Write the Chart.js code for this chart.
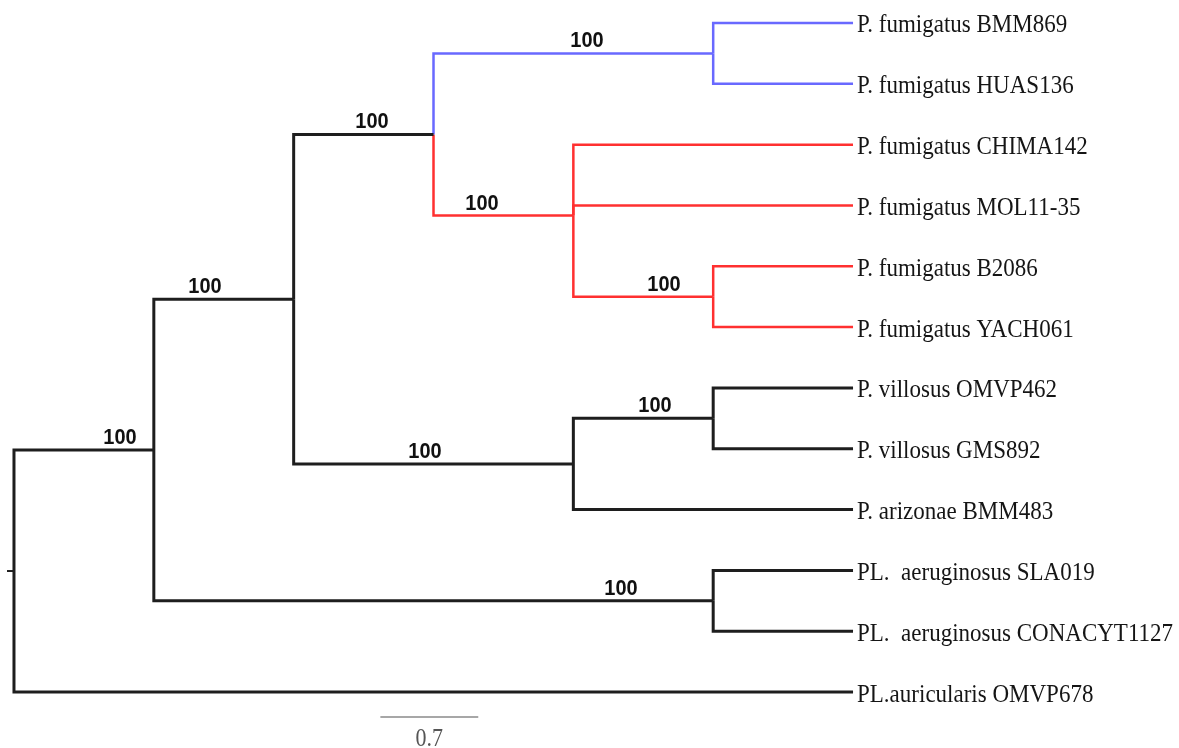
<!DOCTYPE html>
<html>
<head>
<meta charset="utf-8">
<script src="https://cdn.jsdelivr.net/npm/chart.js@4.4.0/dist/chart.umd.min.js"></script>
<style>
  html, body { margin: 0; padding: 0; background: #ffffff; }
  #wrap { width: 1179px; height: 748px; }
</style>
</head>
<body>
<div id="wrap"><canvas id="arvore" width="1179" height="748"></canvas></div>
<script>
// Dados da árvore (folhas em ordem de cima para baixo)
const leafNames = [
    'P. fumigatus BMM869',
    'P. fumigatus HUAS136',
    'P. fumigatus CHIMA142',
    'P. fumigatus MOL11-35',
    'P. fumigatus B2086',
    'P. fumigatus YACH061',
    'P. villosus OMVP462',
    'P. villosus GMS892',
    'P. arizonae BMM483',
    'PL.  aeruginosus SLA019',
    'PL.  aeruginosus CONACYT1127',
    'PL.auricularis OMVP678'
];
// grupo de cor de cada folha
const leafGroup = ['blue', 'blue', 'red', 'red', 'red', 'red',
                   'black', 'black', 'black', 'black', 'black', 'black'];
// topologia (índices das folhas)
const topology = [[[[[0, 1], [2, 3, [4, 5]]], [[6, 7], 8]], [9, 10]], 11];
// valores de bootstrap dos nós internos (pré-ordem, sem a raiz)
const supportValues = [100, 100, 100, 100, 100, 100, 100, 100, 100];
// barra de escala
const scaleBarLength = 0.7;
const scaleBarLabel = '0.7';

// posição horizontal dos rótulos de suporte (unidades do eixo x)
const supportLabelX = [0.758, 1.366, 2.56, 4.098, 3.347, 4.648, 2.939, 4.584, 4.341];

const cores = { blue: 'rgb(105, 105, 255)', red: 'rgb(255, 48, 48)', black: '#1e1e1e' };

// Monta os nós a partir da topologia
function buildNode(item) {
    if (typeof item === 'number') {
        return { leaf: item, children: [], height: 0, y: item, group: leafGroup[item] };
    }
    const children = item.map(buildNode);
    const height = 1 + Math.max(...children.map(c => c.height));
    const y = children.reduce((s, c) => s + c.y, 0) / children.length;
    const grupos = new Set(children.map(c => c.group));
    const group = grupos.size === 1 ? children[0].group : 'black';
    return { children, height, y, group };
}

const root = buildNode(topology);
const maxHeight = root.height;

const internos = [];
const datasets = [];
function walk(node, parent) {
    node.x = maxHeight - node.height;
    if (node.children.length && parent) internos.push(node);
    if (parent) {
        datasets.push({
            data: [
                { x: parent.x, y: parent.y },
                { x: parent.x, y: node.y },
                { x: node.x, y: node.y }
            ],
            borderColor: cores[node.group],
            borderWidth: node.group === 'black' ? 3 : 2.5
        });
    }
    node.children.forEach(c => walk(c, node));
}
walk(root, null);

// pequeno traço da raiz
datasets.push({
    data: [{ x: -0.05, y: root.y }, { x: 0, y: root.y }],
    borderColor: cores.black,
    borderWidth: 2
});

// barra de escala
const scaleBarStart = 2.62;
const scaleBarY = 11.41;
datasets.push({
    data: [{ x: scaleBarStart, y: scaleBarY }, { x: scaleBarStart + scaleBarLength, y: scaleBarY }],
    borderColor: '#8a8a8a',
    borderWidth: 1.5
});

datasets.forEach(ds => {
    ds.showLine = true;
    ds.pointRadius = 0;
    ds.pointHoverRadius = 0;
    ds.tension = 0;
    ds.fill = false;
    ds.borderJoinStyle = 'miter';
    ds.borderCapStyle = 'butt';
});

const ESTICA = 1.13; // texto um pouco alongado na vertical

function texto(ctx, t, x, y, align) {
    ctx.save();
    ctx.translate(x, y);
    ctx.scale(1, ESTICA);
    ctx.textAlign = align;
    ctx.textBaseline = 'alphabetic';
    ctx.fillText(t, 0, 0);
    ctx.restore();
}

const rotulosPlugin = {
    id: 'rotulos',
    afterDatasetsDraw(chart) {
        const ctx = chart.ctx;
        const xs = chart.scales.x;
        const ys = chart.scales.y;

        // nomes das folhas
        ctx.fillStyle = '#151515';
        ctx.font = '23px "Liberation Serif", "Times New Roman", serif';
        leafNames.forEach((nome, i) => {
            texto(ctx, nome, xs.getPixelForValue(maxHeight) + 4, ys.getPixelForValue(i) + 9.5, 'left');
        });

        // valores de suporte
        ctx.fillStyle = '#111111';
        ctx.font = 'bold 20px "Liberation Sans", Arial, sans-serif';
        internos.forEach((node, i) => {
            texto(ctx, String(supportValues[i]), xs.getPixelForValue(supportLabelX[i]),
                ys.getPixelForValue(node.y) - 6, 'center');
        });

        // rótulo da escala
        ctx.fillStyle = '#555555';
        ctx.font = '22px "Liberation Serif", "Times New Roman", serif';
        texto(ctx, scaleBarLabel, xs.getPixelForValue(scaleBarStart + scaleBarLength / 2),
            ys.getPixelForValue(scaleBarY) + 29, 'center');
    }
};

new Chart(document.getElementById('arvore').getContext('2d'), {
    type: 'scatter',
    data: { datasets: datasets },
    options: {
        responsive: false,
        animation: false,
        events: [],
        layout: { padding: 0 },
        plugins: {
            legend: { display: false },
            tooltip: { enabled: false }
        },
        scales: {
            x: { type: 'linear', display: false, min: -0.1, max: 8.331 },
            y: { type: 'linear', display: false, reverse: true, min: -0.378, max: 11.92 }
        }
    },
    plugins: [rotulosPlugin]
});
</script>
</body>
</html>
